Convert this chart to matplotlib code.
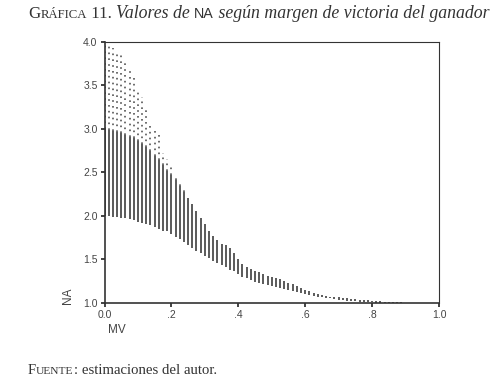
import numpy as np
import matplotlib
matplotlib.use('Agg')
import matplotlib.pyplot as plt

# margin of victory, one column every 0.0125
mv = np.round(np.arange(0, 0.9001, 0.0125), 4)

# lower edge of each column
na_low = [2.00, 2.00, 1.99, 1.99, 1.98, 1.97, 1.96, 1.95, 1.93, 1.92,
          1.90, 1.89, 1.87, 1.85, 1.83, 1.82, 1.79, 1.76, 1.73, 1.70,
          1.66, 1.63, 1.60, 1.57, 1.54, 1.51, 1.48, 1.46, 1.43, 1.41,
          1.38, 1.36, 1.33, 1.30, 1.28, 1.26, 1.24, 1.23, 1.21, 1.20,
          1.19, 1.18, 1.17, 1.16, 1.15, 1.13, 1.12, 1.11, 1.10, 1.09,
          1.08, 1.07, 1.06, 1.05, 1.05, 1.04, 1.03, 1.03, 1.02, 1.02,
          1.02, 1.01, 1.01, 1.01, 1.01, 1.00, 1.00, 1.00, 1.00, 1.00,
          1.00, 1.00, 1.00]

# top of the dense part of each column
na_mid = [3.00, 2.99, 2.98, 2.96, 2.95, 2.93, 2.91, 2.89, 2.86, 2.83,
          2.79, 2.74, 2.69, 2.64, 2.58, 2.52, 2.47, 2.41, 2.34, 2.27,
          2.20, 2.14, 2.06, 1.98, 1.90, 1.82, 1.77, 1.72, 1.68, 1.66,
          1.63, 1.57, 1.50, 1.45, 1.41, 1.39, 1.37, 1.35, 1.33, 1.31,
          1.30, 1.28, 1.27, 1.25, 1.23, 1.21, 1.19, 1.17, 1.15, 1.13,
          1.11, 1.10, 1.09, 1.08, 1.07, 1.07, 1.06, 1.05, 1.05, 1.04,
          1.04, 1.03, 1.03, 1.03, 1.02, 1.02, 1.02, 1.01, 1.01, 1.01,
          1.01, 1.01, 1.00]

# top of the sparse dotted part
na_high = [3.97, 3.96, 3.93, 3.90, 3.86, 3.79, 3.71, 3.58, 3.45, 3.37,
           3.25, 3.08, 3.02, 2.94, 2.72, 2.65, 2.58, 2.46, 2.40, 2.30,
           2.20, 2.14, 2.06, 1.98, 1.90, 1.82, 1.77, 1.72, 1.68, 1.66,
           1.63, 1.57, 1.50, 1.45, 1.41, 1.39, 1.37, 1.35, 1.33, 1.31,
           1.30, 1.28, 1.27, 1.25, 1.23, 1.21, 1.19, 1.17, 1.15, 1.13,
           1.11, 1.10, 1.09, 1.08, 1.07, 1.07, 1.06, 1.05, 1.05, 1.04,
           1.04, 1.03, 1.03, 1.03, 1.02, 1.02, 1.02, 1.01, 1.01, 1.01,
           1.01, 1.01, 1.00]

xticks = [0.0, 0.2, 0.4, 0.6, 0.8, 1.0]
xtick_labels = ['0.0', '.2', '.4', '.6', '.8', '1.0']
yticks = [1.0, 1.5, 2.0, 2.5, 3.0, 3.5, 4.0]
ytick_labels = ['1.0', '1.5', '2.0', '2.5', '3.0', '3.5', '4.0']

sans = ['Liberation Sans', 'DejaVu Sans']
serif = ['Liberation Serif', 'DejaVu Serif']

fig = plt.figure(figsize=(4.98, 3.91), dpi=100)
ax = fig.add_axes([104.5/498, 1-302.7/391, 334.5/498, 260.7/391])

ax.vlines(mv, na_low, na_mid, colors='#5a5a5a', linewidth=1.4)
ax.vlines(mv, na_mid, na_high, colors='#555555', linewidth=1.2,
          linestyles=(0, (1, 2.5)))

ax.set_xlim(0, 1)
ax.set_ylim(1, 4)
ax.set_xticks(xticks)
ax.set_xticklabels(xtick_labels, family=sans, fontsize=7.5, color='#444444')
ax.set_yticks(yticks)
ax.set_yticklabels(ytick_labels, family=sans, fontsize=7.5, color='#444444')
ax.tick_params(direction='out', length=3, width=1.2, pad=2, color='#222222')
for s in ax.spines.values():
    s.set_linewidth(0.8)
    s.set_color('#333333')
ax.spines['left'].set_linewidth(1.2)
ax.spines['bottom'].set_linewidth(1.2)

fig.text(68/498, 1-296/391, 'NA', rotation=90, ha='center', va='center',
         family=sans, fontsize=8.5, color='#444444')
fig.text(117/498, 1-330/391, 'MV', ha='center', va='center',
         family=sans, fontsize=8.5, color='#444444')


def run_text(pieces, x0, y0):
    # place pieces of text one after the other on a baseline
    fig.canvas.draw()
    r = fig.canvas.get_renderer()
    x = x0
    for txt, kw in pieces:
        t = fig.text(x/498, 1-y0/391, txt, va='baseline', ha='left',
                     color='#333333', **kw)
        bb = t.get_window_extent(renderer=r)
        x += bb.width


title = [
    ('G', dict(family=serif, fontsize=12.2)),
    ('RÁFICA', dict(family=serif, fontsize=9.2)),
    (' 11. ', dict(family=serif, fontsize=12.2)),
    ('Valores de ', dict(family=serif, fontsize=12.8, style='italic')),
    ('NA', dict(family=sans, fontsize=10.3)),
    (' según margen de victoria del ganador',
     dict(family=serif, fontsize=12.8, style='italic')),
]
run_text(title, 28, 18)

foot = [
    ('F', dict(family=serif, fontsize=10.6)),
    ('UENTE', dict(family=serif, fontsize=8.2)),
    (': estimaciones del autor.', dict(family=serif, fontsize=10.6)),
]
run_text(foot, 28, 374)

fig.savefig('out.png', dpi=100)
